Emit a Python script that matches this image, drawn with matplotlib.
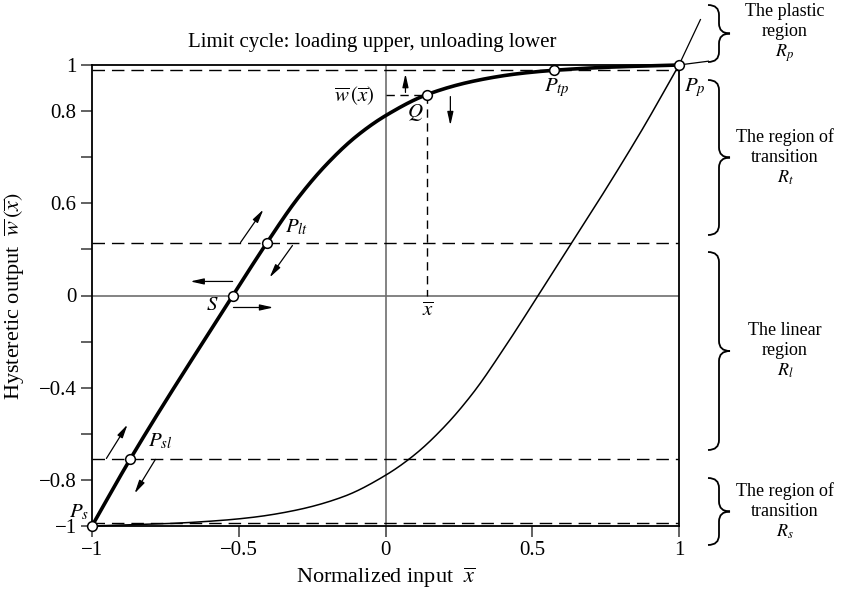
import numpy as np
import matplotlib
matplotlib.use("Agg")
import matplotlib.pyplot as plt
from matplotlib.path import Path
from matplotlib.patches import PathPatch

plt.rcParams['font.family'] = ['Liberation Serif', 'DejaVu Serif']
plt.rcParams['mathtext.fontset'] = 'stix'

# ---------------- data ----------------
# loading (upper) branch
upper_x = [-1.0, -0.869, -0.52, -0.405, -0.30, -0.20, -0.10, 0.0, 0.142, 0.30, 0.45, 0.573, 0.75, 1.0]
upper_y = [-1.0, -0.708, 0.0, 0.227, 0.42, 0.57, 0.69, 0.78, 0.872, 0.93, 0.962, 0.977, 0.99, 1.0]
# unloading (lower) branch
lower_x = [-1.0, -0.75, -0.573, -0.45, -0.30, -0.142, 0.0, 0.10, 0.20, 0.30, 0.405, 0.52, 0.869, 1.0]
lower_y = [-1.0, -0.99, -0.977, -0.962, -0.93, -0.872, -0.78, -0.69, -0.57, -0.42, -0.227, 0.0, 0.708, 1.0]

# marked points on the loading branch
point_names = ['P_s', 'P_{sl}', 'S', 'P_{lt}', 'Q', 'P_{tp}', 'P_p']
point_x = [-1.0, -0.869, -0.52, -0.405, 0.142, 0.573, 1.0]
point_y = [-1.0, -0.708, 0.0, 0.227, 0.872, 0.977, 1.0]

# horizontal region borders (dashed)
border_levels = [0.98, 0.227, -0.708, -0.985]

# axis ticks
x_ticks = [-1, -0.5, 0, 0.5, 1]
x_tick_labels = ['\u22121', '\u22120.5', '0', '0.5', '1']
y_ticks = [-1, -0.8, -0.6, -0.4, -0.2, 0, 0.2, 0.4, 0.6, 0.8, 1]
y_tick_labels = ['\u22121', '\u22120.8', '', '\u22120.4', '', '0', '', '0.6', '', '0.8', '1']

regions = [
    ('The plastic\nregion\n$R_p$', 5, 62),
    ('The region of\ntransition\n$R_t$', 80, 235),
    ('The linear\nregion\n$R_l$', 252, 450),
    ('The region of\ntransition\n$R_s$', 478, 545),
]


def smooth(xp, yp, n=400):
    """Monotone cubic (Fritsch-Carlson) curve through the read points."""
    xp = np.asarray(xp, float); yp = np.asarray(yp, float)
    h = np.diff(xp); d = np.diff(yp) / h
    m = np.zeros_like(yp)
    m[0], m[-1] = d[0], d[-1]
    for k in range(1, len(xp) - 1):
        if d[k - 1] * d[k] <= 0:
            m[k] = 0
        else:
            w1 = 2 * h[k] + h[k - 1]; w2 = h[k] + 2 * h[k - 1]
            m[k] = (w1 + w2) / (w1 / d[k - 1] + w2 / d[k])
    xs = np.linspace(xp[0], xp[-1], n)
    idx = np.clip(np.searchsorted(xp, xs) - 1, 0, len(xp) - 2)
    t = (xs - xp[idx]) / h[idx]
    h00 = 2 * t**3 - 3 * t**2 + 1; h10 = t**3 - 2 * t**2 + t
    h01 = -2 * t**3 + 3 * t**2; h11 = t**3 - t**2
    ys = h00 * yp[idx] + h10 * h[idx] * m[idx] + h01 * yp[idx + 1] + h11 * h[idx] * m[idx + 1]
    return xs, ys


W, H = 844, 592
fig = plt.figure(figsize=(W / 100, H / 100), dpi=100)
L, R, T, B = 92, 679, 65, 526
ax = fig.add_axes([L / W, 1 - B / H, (R - L) / W, (B - T) / H])
ax.set_xlim(-1, 1)
ax.set_ylim(-1, 1)

FS_TICK = 15
FS_LABEL = 16
FS_TITLE = 15
FS_PT = 15
FS_SIDE = 13

# guide lines
ax.axhline(0, color='#6e6e6e', lw=1.2, zorder=1)
ax.axvline(0, color='#6e6e6e', lw=1.2, zorder=1)
for lv in border_levels:
    ax.plot([-1, 1], [lv, lv], color='black', lw=1.0, dashes=(9, 5), zorder=2)

# curves
ux, uy = smooth(upper_x, upper_y)
lx, ly = smooth(lower_x, lower_y)
ax.plot(lx, ly, color='black', lw=1.1, zorder=3, clip_on=False)
ax.plot(ux, uy, color='black', lw=2.6, zorder=4, clip_on=False)
# tangents leaving P_p
ax.plot([1.0, 1.073], [1.0, 1.197], color='black', lw=0.9, clip_on=False, zorder=3)
ax.plot([1.0, 1.10], [1.0, 1.0165], color='black', lw=0.9, clip_on=False, zorder=3)

# Q projections
qx, qy = point_x[4], point_y[4]
ax.plot([qx, qx], [qy, 0], color='black', lw=1.0, dashes=(6, 4), zorder=2)
ax.plot([0, qx], [qy, qy], color='black', lw=1.0, dashes=(6, 4), zorder=2)

# markers
ax.plot(point_x, point_y, 'o', ms=7, mfc='white', mec='black', mew=1.1,
        zorder=6, clip_on=False)

# point labels
label_pos = [(-1.045, -0.94), (-0.767, -0.633), (-0.589, -0.043), (-0.303, 0.295),
             (0.102, 0.794), (0.583, 0.902), (1.053, 0.902)]
for name, (lx_, ly_) in zip(point_names, label_pos):
    ax.text(lx_, ly_, '$%s$' % name, fontsize=FS_PT, ha='center', va='center',
            clip_on=False, zorder=7)
ax.text(-0.105, 0.868, r'$\overline{w}\,(\overline{x})$', fontsize=FS_PT, ha='center',
        va='center', zorder=7)
ax.text(0.143, -0.07, r'$\overline{x}$', fontsize=FS_PT, ha='center', va='center', zorder=7)

# direction arrows
arrows = [
    ((0.068, 0.881), (0.068, 0.962)),
    ((0.221, 0.863), (0.221, 0.738)),
    ((-0.494, 0.230), (-0.416, 0.373)),
    ((-0.317, 0.217), (-0.395, 0.078)),
    ((-0.521, 0.061), (-0.665, 0.061)),
    ((-0.518, -0.052), (-0.382, -0.052)),
    ((-0.951, -0.707), (-0.879, -0.560)),
    ((-0.784, -0.711), (-0.855, -0.859)),
]
for (x0, y0), (x1, y1) in arrows:
    ax.annotate('', xy=(x1, y1), xytext=(x0, y0),
                arrowprops=dict(arrowstyle='-|>,head_length=0.8,head_width=0.18',
                                color='black', lw=0.9, shrinkA=0, shrinkB=0),
                zorder=7)

# axes styling
for s in ax.spines.values():
    s.set_linewidth(1.3)
    s.set_color('black')
ax.set_xticks(x_ticks)
ax.set_xticklabels(x_tick_labels, fontsize=FS_TICK)
ax.set_yticks(y_ticks)
ax.set_yticklabels(y_tick_labels, fontsize=FS_TICK)
ax.tick_params(direction='out', length=8, width=1.3, color='#555555', pad=3)
ax.set_xlabel(r'Normalized input  $\overline{x}$', fontsize=FS_LABEL)
ax.set_ylabel(r'Hysteretic output  $\overline{w}\,(\overline{x})$', fontsize=FS_LABEL)
ax.xaxis.set_label_coords(0.5, (B - 578) / (B - T), transform=ax.transAxes)
ax.yaxis.set_label_coords((15 - L) / (R - L), 0.5, transform=ax.transAxes)
ax.xaxis.label.set_va('center')
ax.yaxis.label.set_va('center')

fig.text(372 / W, 1 - 43 / H, 'Limit cycle: loading upper, unloading lower',
         fontsize=FS_TITLE, ha='center', va='center')


# curly braces on the right
def brace(y_top, y_bot, x_end=708, x_body=719, x_tip=730):
    ym = (y_top + y_bot) / 2
    r = min(10, (y_bot - y_top) / 4)
    pts = [(x_end, y_top), (x_body, y_top), (x_body, y_top + r),
           (x_body, ym - r), (x_body, ym), (x_tip, ym),
           (x_body, ym), (x_body, ym + r),
           (x_body, y_bot - r), (x_body, y_bot), (x_end, y_bot)]
    codes = [Path.MOVETO, Path.CURVE3, Path.CURVE3,
             Path.LINETO, Path.CURVE3, Path.CURVE3,
             Path.CURVE3, Path.CURVE3,
             Path.LINETO, Path.CURVE3, Path.CURVE3]
    verts = [(x / W, 1 - y / H) for x, y in pts]
    fig.add_artist(PathPatch(Path(verts, codes), transform=fig.transFigure,
                             fill=False, lw=1.3, ec='black'))
    return ym


for text, yt, yb in regions:
    ym = brace(yt, yb)
    fig.text(785 / W, 1 - ym / H, text, fontsize=FS_SIDE, ha='center', va='center',
             linespacing=1.2)

fig.savefig('out.png', dpi=100)
